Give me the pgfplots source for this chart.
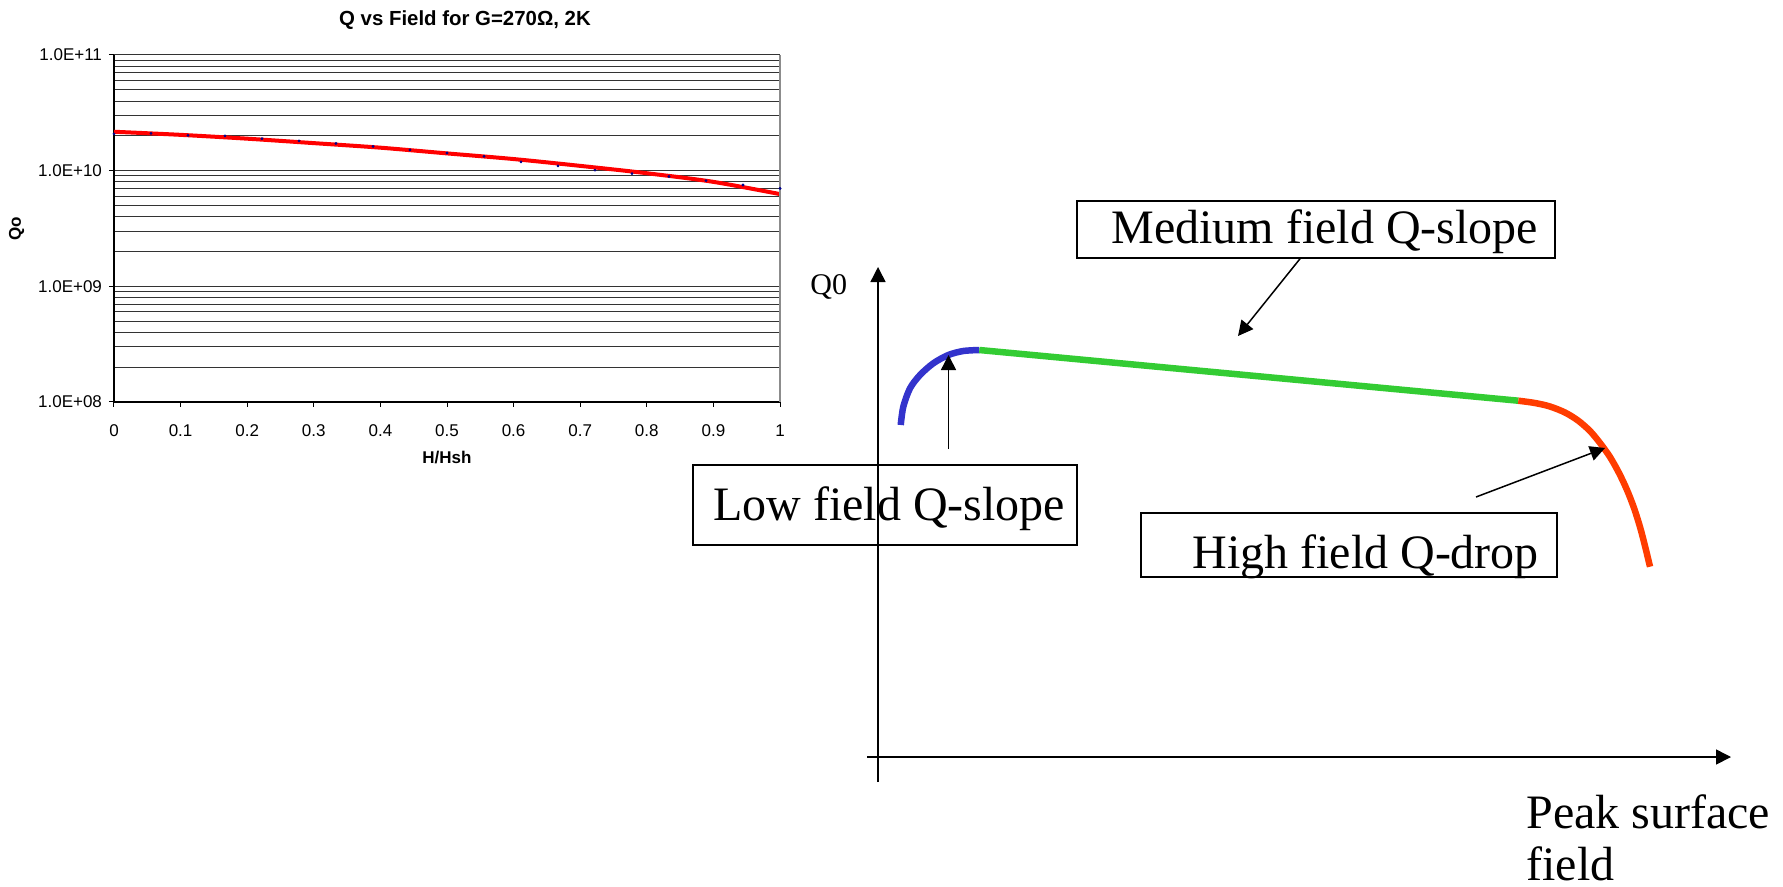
\documentclass[border=0pt]{standalone}
\usepackage{pgfplots}
\pgfplotsset{compat=1.18}
\usepackage{pgfplotstable}
\usepackage{fontspec}
\setmainfont{Liberation Serif}
\newfontfamily\arial{Liberation Sans}
\usetikzlibrary{arrows.meta}
\definecolor{qblue}{RGB}{51,51,204}
\definecolor{qgreen}{RGB}{51,204,51}
\definecolor{qred}{RGB}{255,60,0}
\definecolor{ptblue}{RGB}{0,0,140}

\pgfplotstableread{
x q
0   2.17e10
0.1 2.04e10
0.2 1.89e10
0.3 1.73e10
0.4 1.58e10
0.5 1.41e10
0.6 1.26e10
0.7 1.10e10
0.8 9.5e9
0.9 8.0e9
1.0 6.27e9
}\fitdata

\pgfplotstableread{
x q
0.0000 2.08e10
0.0556 2.10e10
0.1111 2.02e10
0.1667 2.00e10
0.2222 1.89e10
0.2778 1.81e10
0.3333 1.72e10
0.3889 1.62e10
0.4444 1.51e10
0.5000 1.42e10
0.5556 1.33e10
0.6111 1.19e10
0.6667 1.10e10
0.7222 1.01e10
0.7778 9.42e9
0.8333 8.9e9
0.8889 8.2e9
0.9444 7.52e9
1.0000 7.02e9
}\measdata

\begin{document}
\begin{tikzpicture}
\path[use as bounding box] (0pt,0pt) rectangle (891.5pt,-443.5pt);

% ---------------- left chart ----------------
\begin{axis}[
  at={(57pt,-201pt)}, anchor=south west,
  scale only axis, width=333pt, height=173.5pt,
  ymode=log, ymin=1e8, ymax=1e11, xmin=0, xmax=1,
  axis x line*=bottom, axis y line*=left,
  x axis line style={black, line width=0.6pt},
  y axis line style={black, line width=0.6pt},
  xtick={0,0.1,0.2,0.3,0.4,0.5,0.6,0.7,0.8,0.9,1},
  xticklabels={0,0.1,0.2,0.3,0.4,0.5,0.6,0.7,0.8,0.9,1},
  ytick={1e8,1e9,1e10,1e11},
  yticklabels={1.0E+08,1.0E+09,1.0E+10,1.0E+11},
  minor ytick={2e8,3e8,4e8,5e8,6e8,7e8,8e8,9e8,2e9,3e9,4e9,5e9,6e9,7e9,8e9,9e9,2e10,3e10,4e10,5e10,6e10,7e10,8e10,9e10},
  ymajorgrids, yminorgrids,
  major grid style={black!80, line width=0.5pt},
  minor grid style={black!80, line width=0.5pt},
  tick align=outside, major tick length=2.5pt, minor tick length=0pt,
  tick style={black, line width=0.5pt},
  tick label style={font=\arial\fontsize{8.5}{10}\selectfont},
  xticklabel style={yshift=-5.3pt},
  clip=false,
]
\addplot[only marks, mark=*, mark size=0.5pt, ptblue] table[x=x,y=q]{\measdata};
\addplot[red, line width=2pt, smooth] table[x=x,y=q]{\fitdata};
\draw[black!45, line width=0.6pt] (rel axis cs:1,0) -- (rel axis cs:1,1);
\node[anchor=base, inner sep=0pt, font=\arial\bfseries\fontsize{10.2}{12}\selectfont] at ([yshift=14.5pt]rel axis cs:0.527,1) {Q vs Field for G=270Ω, 2K};
\node[anchor=center, inner sep=0pt, font=\arial\bfseries\fontsize{8.5}{10}\selectfont] at ([yshift=-28pt]rel axis cs:0.5,0) {H/Hsh};
\node[anchor=center, inner sep=0pt, rotate=90, font=\arial\bfseries\fontsize{8.5}{10}\selectfont] at ([xshift=-48.75pt]rel axis cs:0,0.5) {Qo};
\end{axis}

% ---------------- right schematic ----------------
\begin{axis}[
  at={(0pt,0pt)}, anchor=north west,
  scale only axis, width=891.5pt, height=443.5pt,
  xmin=0, xmax=1783, ymin=0, ymax=887, y dir=reverse,
  hide axis, clip=false,
]
\draw[black, line width=0.75pt, -{Triangle[length=7.5pt,width=7.5pt]}] (axis cs:878,782) -- (axis cs:878,267);
\draw[black, line width=0.75pt, -{Triangle[length=7.5pt,width=7.5pt]}] (axis cs:867,757) -- (axis cs:1731,757);

\addplot[qblue, line width=3.25pt, smooth] coordinates {(900.7,425) (903.3,406.7) (910,388.3) (920,375) (933.3,363.3) (948.3,355) (963.3,351) (979.3,350)};
\addplot[qgreen, line width=3.25pt] coordinates {(979.3,350) (1518.3,400.7)};
\addplot[qred, line width=3.25pt, smooth] coordinates {(1518.3,400.7) (1535,403) (1550,406.5) (1565,412.5) (1578,420.5) (1590,431) (1600,443) (1610,457) (1619,473) (1627,490) (1634,508) (1640,527) (1645,546) (1650,566.7)};

\draw[black, line width=0.75pt, -{Triangle[length=7.5pt,width=7.5pt]}] (axis cs:1300.6,258) -- (axis cs:1238,336);
\draw[black, line width=0.75pt, -{Triangle[length=7.5pt,width=7.5pt]}] (axis cs:948.5,449) -- (axis cs:948.5,355);
\draw[black, line width=0.75pt, -{Triangle[length=7.5pt,width=7.5pt]}] (axis cs:1476,497) -- (axis cs:1605,448);

\draw[black, line width=1pt] (axis cs:1077,201) rectangle (axis cs:1555,258);
\draw[black, line width=1pt] (axis cs:693,465) rectangle (axis cs:1077,544.5);
\draw[black, line width=1pt] (axis cs:1140.5,513) rectangle (axis cs:1557,577);

\node[anchor=base west, inner sep=0pt, font=\fontsize{24}{28}\selectfont] at (axis cs:1111,243) {Medium field Q-slope};
\node[anchor=base west, inner sep=0pt, font=\fontsize{24}{28}\selectfont] at (axis cs:713,520) {Low field Q-slope};
\node[anchor=base west, inner sep=0pt, font=\fontsize{24}{28}\selectfont] at (axis cs:1192,568) {High field Q-drop};
\node[anchor=base west, inner sep=0pt, font=\fontsize{15}{18}\selectfont] at (axis cs:810,294) {Q0};
\node[anchor=base west, inner sep=0pt, font=\fontsize{24}{28}\selectfont] at (axis cs:1526,828) {Peak surface};
\node[anchor=base west, inner sep=0pt, font=\fontsize{24}{28}\selectfont] at (axis cs:1526,880) {field};
\end{axis}
\end{tikzpicture}
\end{document}
